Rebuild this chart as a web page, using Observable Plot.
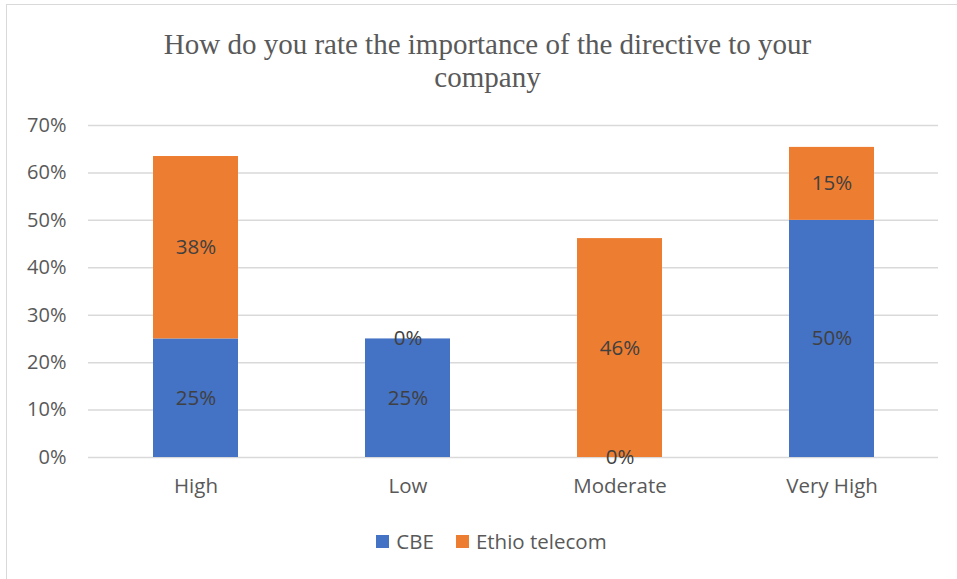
<!DOCTYPE html>
<html>
<head>
<meta charset="utf-8">
<script src="https://cdn.jsdelivr.net/npm/d3@7"></script>
<script src="https://cdn.jsdelivr.net/npm/@observablehq/plot@0.6"></script>
<style>
  html, body { margin: 0; padding: 0; background: #fff; overflow: hidden; width: 957px; height: 579px; }
  #frame { position: absolute; left: 6px; top: 4px; width: 1200px; height: 1200px; border: 1px solid #d9d9d9; box-sizing: border-box; }
  #chart { position: absolute; left: 0; top: 0; width: 957px; }
  .title { font-family: "Liberation Serif", "DejaVu Serif", serif; font-size: 29px; color: #595959; text-align: center; line-height: 33px; padding-top: 28px; height: 82px; padding-left: 18px; }
  .legend { display: flex; justify-content: center; align-items: center; gap: 22px; font-family: "Open Sans", sans-serif; font-size: 20.5px; color: #595959; margin-top: 7px; padding-left: 26px; }
  .legend span.item { display: flex; align-items: center; gap: 7px; }
  .legend span.sw { width: 13px; height: 13px; display: inline-block; }
</style>
</head>
<body>
<div id="frame"></div>
<div id="chart">
  <div class="title">How do you rate the importance of the directive to your<br>company</div>
  <div id="plot"></div>
  <div class="legend" id="legend"></div>
</div>
<script>
const categories = ["High", "Low", "Moderate", "Very High"];
const seriesNames = ["CBE", "Ethio telecom"];
const cbeValues = [0.25, 0.25, 0.0, 0.50];
const ethioValues = [5/13, 0, 6/13, 2/13];
const yTicks = [0, 0.1, 0.2, 0.3, 0.4, 0.5, 0.6, 0.7];
const colors = ["#4472C4", "#ED7D31"];

const rows = [];
categories.forEach((c, i) => {
  rows.push({category: c, series: seriesNames[0], value: cbeValues[i]});
  rows.push({category: c, series: seriesNames[1], value: ethioValues[i]});
});

const fmt = d3.format(".0%");

const chart = Plot.plot({
  width: 957,
  height: 410,
  marginTop: 15,
  marginBottom: 63,
  marginLeft: 88,
  marginRight: 19,
  style: {fontFamily: "'Open Sans', sans-serif", fontSize: "20px", color: "#595959", background: "transparent"},
  x: {domain: categories, paddingInner: 0.6, paddingOuter: 0.3, label: null},
  y: {domain: [0, 0.7], label: null},
  color: {domain: seriesNames, range: colors},
  marks: [
    Plot.gridY(yTicks, {stroke: "#d9d9d9", strokeOpacity: 1, strokeWidth: 1.5}),
    Plot.barY(rows, Plot.stackY({x: "category", y: "value", fill: "series", z: "series"})),
    Plot.text(rows, Plot.stackY({x: "category", y: "value", z: "series", text: d => fmt(d.value), fill: "#404040", fontSize: 20.5})),
    Plot.axisY(yTicks, {tickSize: 0, tickPadding: 22, tickFormat: fmt, fill: "#595959", fontSize: 20}),
    Plot.axisX({tickSize: 0, tickPadding: 21, fill: "#595959", fontSize: 20.5})
  ]
});
document.getElementById("plot").appendChild(chart);

const legend = document.getElementById("legend");
seriesNames.forEach((s, i) => {
  const item = document.createElement("span");
  item.className = "item";
  const sw = document.createElement("span");
  sw.className = "sw";
  sw.style.background = colors[i];
  item.appendChild(sw);
  item.appendChild(document.createTextNode(s));
  legend.appendChild(item);
});
</script>
</body>
</html>
